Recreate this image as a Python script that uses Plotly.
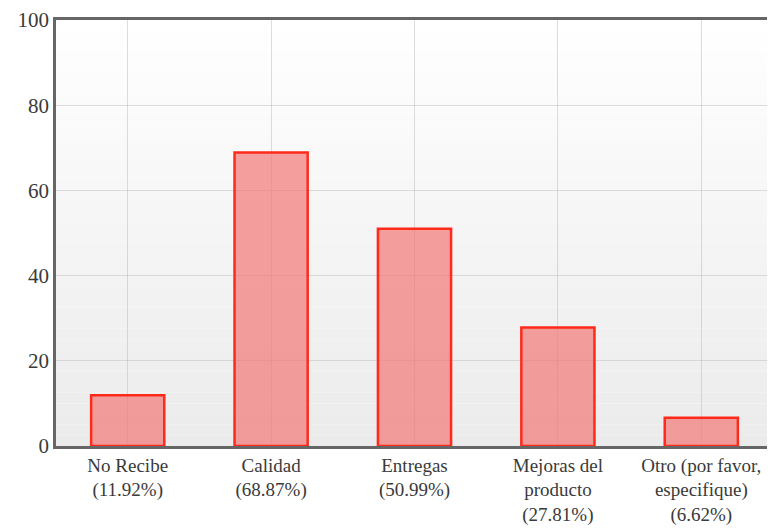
import plotly.graph_objects as go

categories = ["No Recibe", "Calidad", "Entregas", "Mejoras del<br>producto", "Otro (por favor,<br>especifique)"]
values = [11.92, 68.87, 50.99, 27.81, 6.62]
y_ticks = [0, 20, 40, 60, 80, 100]

labels = [f"{c}<br>({v:.2f}%)" for c, v in zip(categories, values)]

fig = go.Figure()
fig.add_trace(go.Bar(
    x=labels, y=values,
    marker=dict(color="rgba(244,120,120,0.7)", line=dict(color="#ff2a1a", width=2.5)),
    width=0.51,
))

# background gradient (white at top to light gray at bottom)
n = 40
shapes = []
for i in range(n):
    t = i / (n - 1)
    g = int(round(255 - 20 * t))
    shapes.append(dict(type="rect", xref="x domain", yref="y domain",
                       x0=0, x1=1, y0=1 - (i + 1) / n, y1=1 - i / n,
                       fillcolor=f"rgb({g},{g},{g})", line=dict(width=0), layer="below"))

fig.update_layout(
    width=767, height=521,
    margin=dict(l=48, r=2, t=12, b=83),
    paper_bgcolor="white",
    plot_bgcolor="rgba(0,0,0,0)",
    shapes=shapes,
    showlegend=False,
    font=dict(family="Liberation Serif, Times New Roman, serif", size=19, color="#3a3a3a"),
    bargap=0.49,
)
fig.update_xaxes(showgrid=True, gridcolor="rgba(180,180,180,0.45)", gridwidth=1,
                 showline=True, linecolor="#666", linewidth=2.5, mirror=True,
                 ticks="", automargin=False, tickfont=dict(size=19, color="#3a3a3a"))
fig.update_yaxes(range=[0, 100], tickvals=y_ticks, showgrid=True,
                 gridcolor="rgba(180,180,180,0.45)", gridwidth=1,
                 showline=True, linecolor="#666", linewidth=2.5, mirror=True,
                 ticks="", zeroline=False, automargin=False,
                 tickfont=dict(size=21, color="#3a3a3a"))

fig.write_html("out.html")
